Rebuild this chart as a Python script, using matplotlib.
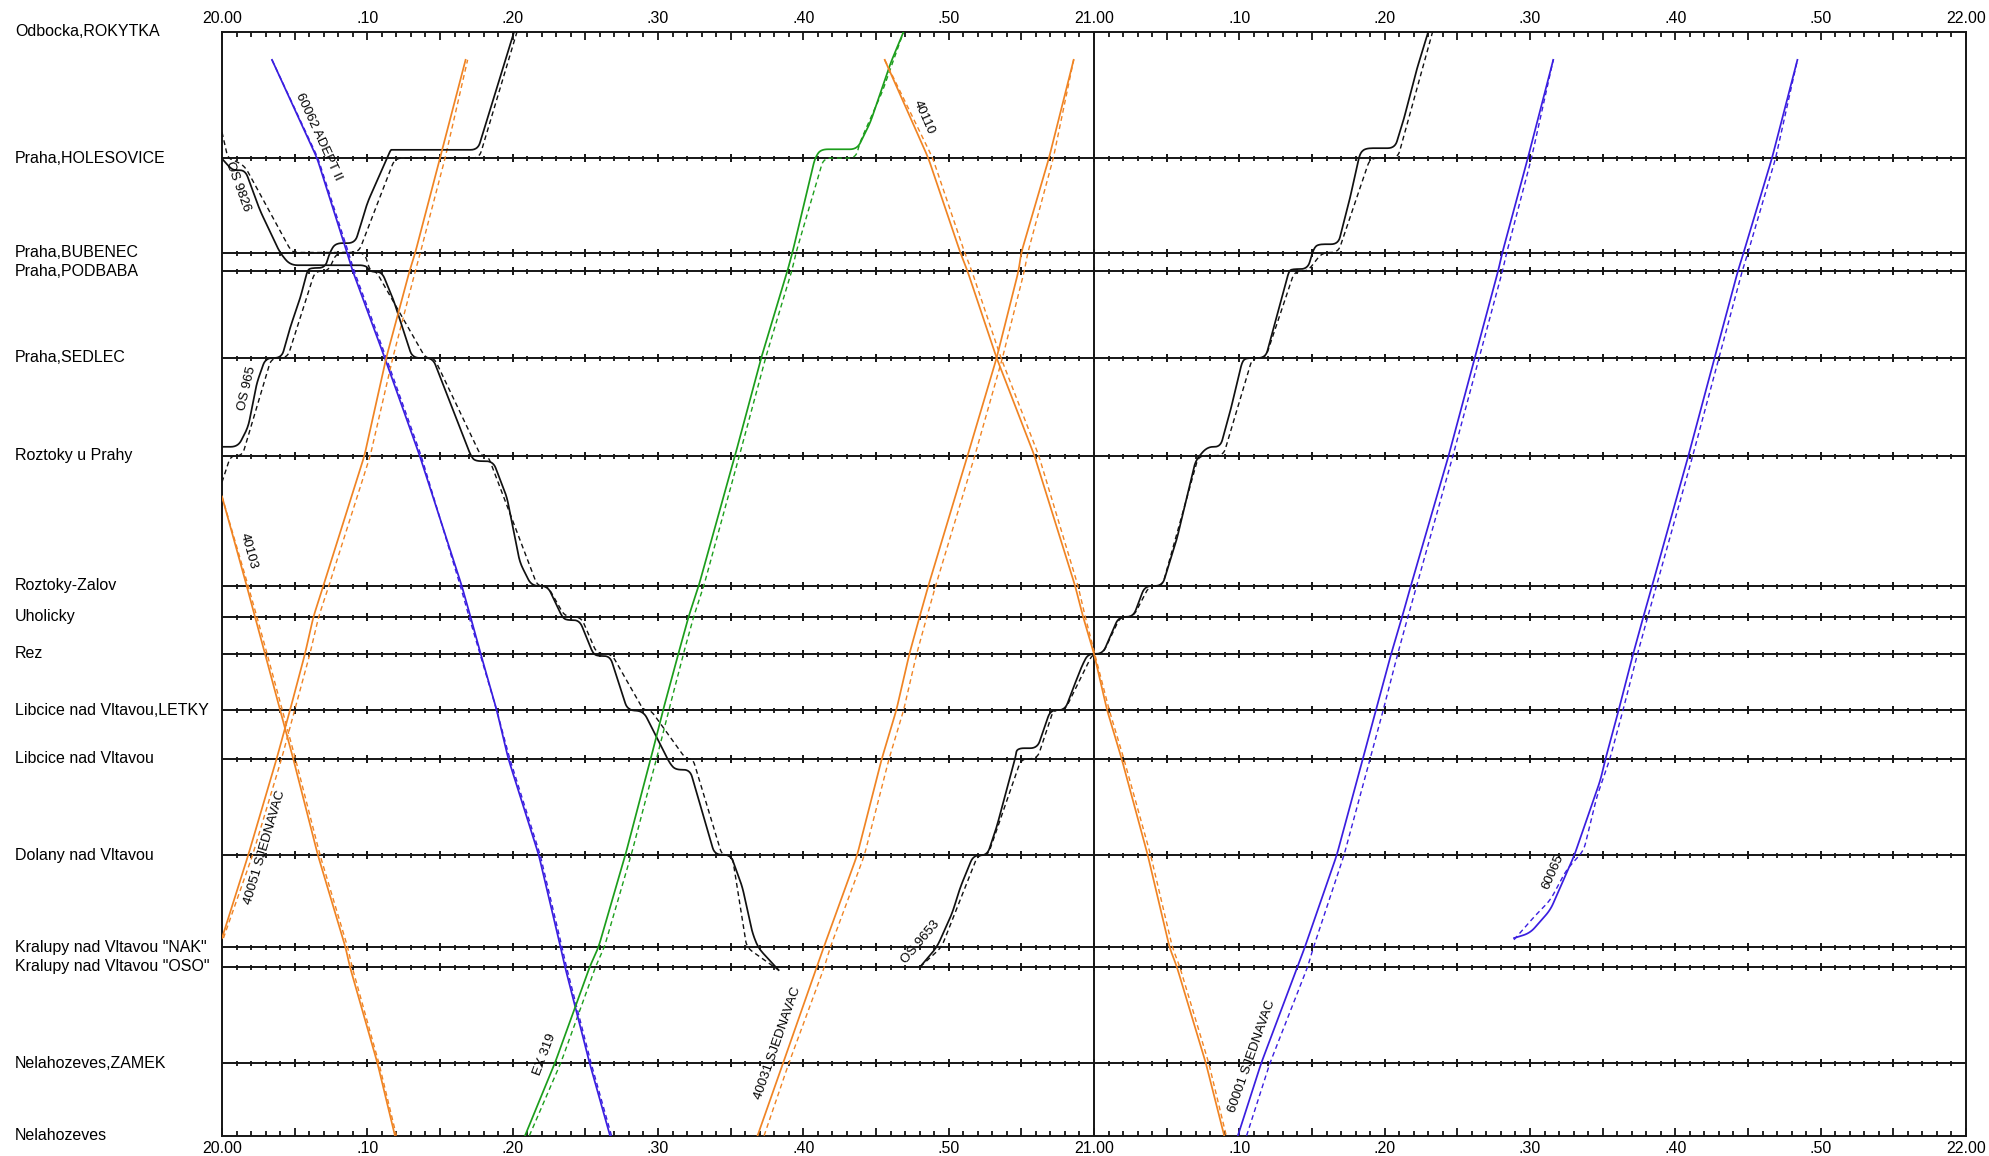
import matplotlib.pyplot as plt
import numpy as np
from matplotlib.transforms import blended_transform_factory

plt.rcParams['font.family'] = ['Liberation Sans', 'DejaVu Sans']

# stations, km from Odbocka Rokytka
stations = ['Odbocka,ROKYTKA', 'Praha,HOLESOVICE', 'Praha,BUBENEC', 'Praha,PODBABA',
            'Praha,SEDLEC', 'Roztoky u Prahy', 'Roztoky-Zalov', 'Uholicky', 'Rez',
            'Libcice nad Vltavou,LETKY', 'Libcice nad Vltavou', 'Dolany nad Vltavou',
            'Kralupy nad Vltavou "NAK"', 'Kralupy nad Vltavou "OSO"',
            'Nelahozeves,ZAMEK', 'Nelahozeves']
station_km = [0.0, 2.29, 4.00, 4.34, 5.91, 7.68, 10.04, 10.60, 11.27,
              12.29, 13.17, 14.92, 16.59, 16.94, 18.69, 20.0]

time_ticks = np.arange(0, 121, 10)   # minutes after 20:00
time_labels = ['20.00', '.10', '.20', '.30', '.40', '.50', '21.00',
               '.10', '.20', '.30', '.40', '.50', '22.00']

# --- black passenger trains (actual = solid, plan = dashed) ---
os9826_t = [0.0, 0.5, 0.8, 1.6, 2.6, 4.0, 4.7, 9.9, 10.2, 11.0, 11.8, 12.7, 13.1, 14.5,
            17.1, 17.4, 18.65, 19.6, 20.5, 21.3, 22.4, 23.4, 23.7, 24.6, 25.5, 25.8,
            26.7, 27.9, 29.0, 30.8, 31.2, 32.2, 33.9, 35.0, 35.8, 36.5, 36.9, 38.3]
os9826_km = [2.30, 2.45, 2.51, 2.51, 3.23, 4.01, 4.23, 4.23, 4.35, 4.35, 4.86, 5.59, 5.91,
             5.91, 7.67, 7.78, 7.78, 8.43, 9.62, 10.04, 10.04, 10.60, 10.66, 10.66, 11.25,
             11.31, 11.31, 12.29, 12.31, 13.25, 13.37, 13.37, 14.91, 14.91, 15.49, 16.33,
             16.60, 17.00]
os9826_plan_t = [0.0, 0.4, 1.0, 1.6, 4.7, 5.0, 9.8, 10.2, 10.6, 14.0, 14.6, 17.8, 18.3,
                 21.7, 22.4, 23.6, 24.7, 25.8, 26.8, 29.0, 29.5, 31.9, 32.4, 34.4, 35.1,
                 36.1, 38.3]
os9826_plan_km = [1.82, 2.29, 2.35, 2.45, 3.95, 4.00, 4.00, 4.34, 4.34, 5.91, 5.91, 7.68,
                  7.68, 10.04, 10.04, 10.60, 10.60, 11.27, 11.27, 12.29, 12.29, 13.17,
                  13.17, 14.92, 14.92, 16.59, 17.0]

os965_t = [-1.0, 1.1, 1.8, 2.4, 3.0, 4.1, 4.7, 5.4, 5.85, 6.05, 7.1, 7.4, 7.8, 9.15,
           9.5, 10.0, 10.9, 11.6, 11.7, 17.6, 18.65, 20.1]
os965_km = [7.52, 7.52, 7.16, 6.36, 5.91, 5.91, 5.35, 4.81, 4.35, 4.28, 4.28, 4.01, 3.83,
            3.83, 3.54, 3.10, 2.56, 2.14, 2.14, 2.14, 1.24, 0.0]
os965_plan_t = [0.0, 0.6, 1.4, 3.4, 4.5, 6.4, 7.3, 7.9, 9.4, 11.9, 17.7, 20.3]
os965_plan_km = [8.16, 7.68, 7.68, 5.91, 5.91, 4.34, 4.34, 4.00, 4.00, 2.29, 2.29, 0.0]

os9653_t = [48.04, 49.2, 50.24, 50.8, 51.7, 52.65, 53.3, 54.6, 54.7, 56.1, 57.0, 58.0,
            58.6, 59.2, 59.6, 60.6, 61.7, 62.7, 63.5, 64.7, 65.7, 67.0, 67.8, 68.7,
            69.4, 70.2, 70.5, 71.8, 72.6, 73.4, 73.6, 74.7, 75.1, 75.4, 76.8, 77.6,
            78.3, 78.7, 80.7, 81.3, 82.2, 83.0]
os9653_km = [16.94, 16.58, 15.97, 15.5, 14.92, 14.92, 14.41, 13.14, 12.98, 12.98, 12.29,
             12.29, 11.87, 11.47, 11.27, 11.27, 10.60, 10.60, 10.04, 10.04, 9.19, 7.76,
             7.52, 7.52, 6.85, 5.97, 5.91, 5.91, 5.13, 4.35, 4.30, 4.30, 3.94, 3.85, 3.85,
             3.03, 2.20, 2.11, 2.11, 1.60, 0.69, 0.0]
os9653_plan_t = [48.04, 49.5, 52.0, 52.7, 55.0, 56.1, 57.2, 58.0, 59.9, 60.6, 61.8, 62.7,
                 63.8, 64.7, 67.2, 68.9, 70.9, 71.8, 73.8, 74.7, 75.7, 76.8, 79.0, 80.9,
                 83.3]
os9653_plan_km = [16.94, 16.59, 14.92, 14.92, 13.17, 13.17, 12.29, 12.29, 11.27, 11.27,
                  10.60, 10.60, 10.04, 10.04, 7.68, 7.68, 5.91, 5.91, 4.34, 4.34, 4.00,
                  4.00, 2.29, 2.29, 0.0]

# --- fast trains passing the stations (same km list for actual and plan) ---
south_km = [0.51, 2.29, 4.00, 4.34, 5.91, 7.68, 10.04, 10.60, 11.27, 12.29, 13.17,
            14.92, 16.59, 16.94, 18.69, 20.0]
north_km = [20.0, 18.69, 16.94, 16.59, 14.92, 13.17, 12.29, 11.27, 10.60, 10.04, 7.68,
            5.91, 4.34, 4.00, 2.29, 0.51]

t60062 = [3.44, 6.54, 8.6, 9.0, 11.2, 13.6, 16.5, 17.1, 17.8, 18.9, 19.7, 21.8, 23.3,
          23.6, 25.3, 26.7]
t60062_plan = [3.44, 6.6, 8.7, 9.1, 11.3, 13.7, 16.4, 17.0, 17.75, 18.9, 19.8, 21.9,
               23.4, 23.7, 25.4, 26.8]

km40103 = [8.42, 10.04, 10.60, 11.27, 12.29, 13.17, 14.92, 16.59, 16.94, 18.69, 20.0]
t40103 = [0.0, 1.7, 2.27, 2.96, 4.0, 4.9, 6.6, 8.5, 8.8, 10.7, 11.9]
t40103_plan = [0.0, 1.8, 2.4, 3.1, 4.15, 5.05, 6.75, 8.65, 8.95, 10.8, 12.0]

km40051 = [16.42, 14.92, 13.17, 12.29, 11.27, 10.60, 10.04, 7.68, 5.91, 4.34, 4.00,
           2.29, 0.51]
t40051 = [0.0, 1.8, 3.76, 4.68, 5.71, 6.29, 6.97, 9.8, 11.3, 12.9, 13.3, 15.0, 16.76]
t40051_plan = [0.1, 2.1, 4.1, 5.0, 6.05, 6.65, 7.35, 10.2, 11.75, 13.3, 13.65, 15.35,
               16.9]

ex319_t = [20.85, 22.9, 25.3, 25.9, 27.75, 29.5, 30.35, 31.4, 32.1, 32.8, 35.3, 37.1,
           38.9, 39.25, 40.8, 41.2, 43.7, 44.6, 46.0, 46.9]
ex319_km = [20.0, 18.69, 16.94, 16.59, 14.92, 13.17, 12.29, 11.27, 10.60, 10.04, 7.68,
            5.91, 4.34, 4.00, 2.29, 2.13, 2.13, 1.65, 0.57, 0.0]
ex319_plan_t = [21.15, 23.3, 25.7, 26.3, 28.15, 29.9, 30.75, 31.75, 32.45, 33.15, 35.6,
                37.4, 39.2, 39.5, 41.4, 43.6, 43.9, 45.4, 46.7, 46.9]
ex319_plan_km = [20.0, 18.69, 16.94, 16.59, 14.92, 13.17, 12.29, 11.27, 10.60, 10.04,
                 7.68, 5.91, 4.34, 4.00, 2.29, 2.29, 2.0, 1.11, 0.15, 0.0]

t40110 = [45.6, 48.6, 50.8, 51.3, 53.3, 55.9, 58.7, 59.25, 60.0, 60.9, 61.9, 63.7, 65.2,
          65.7, 67.7, 68.96]
t40110_plan = [45.6, 48.9, 51.1, 51.6, 53.6, 56.2, 58.9, 59.4, 60.05, 61.05, 62.05, 63.9,
               65.4, 65.9, 67.9, 69.1]

t40031 = [36.85, 38.6, 40.93, 41.4, 43.7, 45.4, 46.4, 47.3, 48.0, 48.6, 51.3, 53.3, 54.8,
          55.0, 56.9, 58.6]
t40031_plan = [37.3, 39.0, 41.45, 41.85, 44.2, 45.9, 46.9, 47.8, 48.5, 49.1, 51.8, 53.7,
               55.2, 55.45, 57.2, 58.6]

t60001 = [69.9, 71.5, 74.0, 74.5, 76.7, 78.5, 79.4, 80.45, 81.2, 81.8, 84.4, 86.2, 87.8,
          88.1, 89.85, 91.6]
t60001_plan = [70.5, 72.1, 74.7, 75.1, 77.2, 79.0, 79.9, 80.9, 81.6, 82.2, 84.7, 86.5,
               88.1, 88.4, 90.1, 91.6]

t60065 = [88.9, 90.0, 91.4, 92.1, 93.05, 94.84, 95.2, 96.1, 97.1, 97.8, 98.4, 100.9,
          102.7, 104.3, 104.7, 106.65, 108.4]
km60065 = [16.42, 16.33, 15.91, 15.49, 14.92, 13.56, 13.17, 12.29, 11.27, 10.60, 10.04,
           7.68, 5.91, 4.34, 4.00, 2.29, 0.51]
t60065_plan = [88.9, 90.3, 91.4, 92.5, 93.7, 94.6, 95.5, 96.4, 97.4, 98.1, 98.7, 101.2,
               103.0, 104.6, 105.0, 106.9, 108.4]
km60065_plan = [16.45, 16.03, 15.73, 15.19, 14.83, 13.86, 13.17, 12.29, 11.27, 10.60,
                10.04, 7.68, 5.91, 4.34, 4.00, 2.29, 0.51]

BLACK = '#111111'
BLUE = '#3a1ee0'
ORANGE = '#f08424'
GREEN = '#1c9e1c'

trains = [
    ('OS 9826', BLACK, os9826_t, os9826_km, os9826_plan_t, os9826_plan_km),
    ('OS 965', BLACK, os965_t, os965_km, os965_plan_t, os965_plan_km),
    ('OS 9653', BLACK, os9653_t, os9653_km, os9653_plan_t, os9653_plan_km),
    ('60062 ADEPT II', BLUE, t60062, south_km, t60062_plan, south_km),
    ('40103', ORANGE, t40103, km40103, t40103_plan, km40103),
    ('40051 SJEDNAVAC', ORANGE, t40051, km40051, t40051_plan, km40051),
    ('EX 319', GREEN, ex319_t, ex319_km, ex319_plan_t, ex319_plan_km),
    ('40110', ORANGE, t40110, south_km, t40110_plan, south_km),
    ('40031 SJEDNAVAC', ORANGE, t40031, north_km, t40031_plan, north_km),
    ('60001 SJEDNAVAC', BLUE, t60001, north_km, t60001_plan, north_km),
    ('60065', BLUE, t60065, km60065, t60065_plan, km60065_plan),
]

# where along each train the name sits (minute), and side offset in points
label_spots = {
    'OS 9826': (1.9, -9), 'OS 965': (2.3, 6), 'OS 9653': (48.9, 11),
    '60062 ADEPT II': (6.0, 7), '40103': (1.1, 8), '40051 SJEDNAVAC': (2.05, -10),
    'EX 319': (23.0, 9), '40110': (47.5, 9), '40031 SJEDNAVAC': (39.0, 8.5),
    '60001 SJEDNAVAC': (71.6, 8), '60065': (92.4, 9),
}

fig = plt.figure(figsize=(19.89, 11.56), dpi=100)
ax = fig.add_axes([222 / 1989, 1 - 1135.7 / 1156, 1744 / 1989, 1104 / 1156])
ax.set_xlim(0, 120)
ax.set_ylim(20, 0)

LINE = '#151515'
ax.hlines(station_km[1:-1], 0, 120, color=LINE, lw=1.4, zorder=1)
ax.axvline(60, color=LINE, lw=1.4, zorder=1)

minutes = np.arange(1, 120)
minor = minutes[minutes % 5 != 0]
major = minutes[minutes % 5 == 0]
for km in station_km[1:-1]:
    ax.plot(minor, np.full(len(minor), km), ls='none', marker='|', ms=3.6,
            mew=1.3, color=LINE, zorder=1)
    ax.plot(major, np.full(len(major), km), ls='none', marker='|', ms=6,
            mew=1.4, color=LINE, zorder=1)

for spine in ax.spines.values():
    spine.set_linewidth(1.4)
    spine.set_color(LINE)

ax.set_xticks(np.arange(0, 121, 5))
ax.set_xticklabels([time_labels[i // 2] if i % 2 == 0 else '' for i in range(25)])
ax.set_xticks(np.arange(0, 121, 1), minor=True)
ax.tick_params(axis='x', which='both', direction='in', top=True, bottom=True,
               labeltop=True, labelbottom=True, color=LINE, width=1.3)
ax.tick_params(axis='x', which='major', length=5.5, labelsize=11.5, pad=4)
ax.tick_params(axis='x', which='minor', length=3.5)
ax.set_yticks([])

trans = blended_transform_factory(fig.transFigure, ax.transData)
for name, km in zip(stations, station_km):
    fig.text(15 / 1989, km, name, transform=trans, ha='left', va='center', fontsize=11.5)

KM_SCALE = 3.8  # one km drawn about as long as 3.8 minutes


def smooth(t, km, cut=0.5):
    # round each corner a little, like the starts and stops of the original
    p = np.column_stack([t, np.asarray(km, dtype=float) * KM_SCALE])
    out = [p[0]]
    s = np.linspace(0, 1, 8)[:, None]
    for i in range(1, len(p) - 1):
        a, b, c = p[i - 1], p[i], p[i + 1]
        da = np.linalg.norm(b - a)
        dc = np.linalg.norm(c - b)
        p0 = b + (a - b) * min(cut, 0.45 * da) / da
        p2 = b + (c - b) * min(cut, 0.45 * dc) / dc
        out.extend((1 - s) ** 2 * p0 + 2 * (1 - s) * s * b + s ** 2 * p2)
    out.append(p[-1])
    out = np.array(out)
    return out[:, 0], out[:, 1] / KM_SCALE


def draw_train(t, km, t_plan, km_plan, color):
    ax.plot(*smooth(t_plan, km_plan), color=color, lw=1.0, dashes=(3.5, 2.5), zorder=3)
    ax.plot(*smooth(t, km), color=color, lw=1.25, zorder=4)


def label_train(text, t, km, at, offset):
    k0 = np.interp(at, t, km)
    p1 = ax.transData.transform((at - 0.3, np.interp(at - 0.3, t, km)))
    p2 = ax.transData.transform((at + 0.3, np.interp(at + 0.3, t, km)))
    ang = np.degrees(np.arctan2(p2[1] - p1[1], p2[0] - p1[0]))
    if ang > 90:
        ang -= 180
    if ang < -90:
        ang += 180
    nx, ny = -np.sin(np.radians(ang)), np.cos(np.radians(ang))
    ax.annotate(text, (at, k0), xytext=(nx * offset, ny * offset),
                textcoords='offset points', rotation=ang, rotation_mode='anchor',
                ha='center', va='center', fontsize=9.5, zorder=5)


for name, color, t, km, t_plan, km_plan in trains:
    draw_train(t, km, t_plan, km_plan, color)
    at, off = label_spots[name]
    label_train(name, t, km, at, off)

plt.savefig('out.png', dpi=100)
